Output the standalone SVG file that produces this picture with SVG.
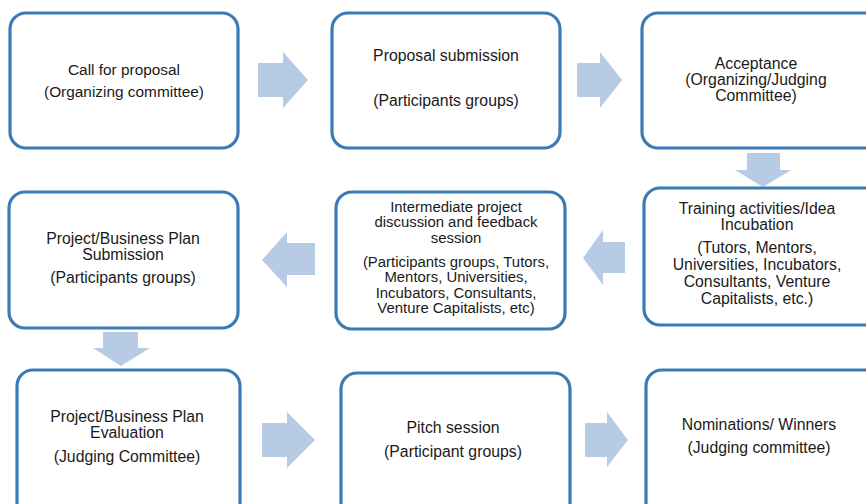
<svg xmlns="http://www.w3.org/2000/svg" width="866" height="504" viewBox="0 0 866 504">
<style>
.box{fill:#fff;stroke:#3a7bb5;stroke-width:3.2}
.arr{fill:#b7cbe4}
text{font-family:"Liberation Sans",Arial,sans-serif;font-size:15.8px;fill:#1a1a1a;text-anchor:middle}
.sm{font-size:14.9px}
.md{font-size:15.4px}
</style>
<rect width="866" height="504" fill="#fff"/>
<g id="connectors">
<polygon class="arr" points="258,63 283,63 283,52 308,80 283,108 283,97 258,97"/>
<polygon class="arr" points="577,63 600,63 600,52 622,80 600,108 600,97 577,97"/>
<polygon class="arr" points="747,153 780,153 780,170 791,170 763,187 735,170 747,170"/>
<polygon class="arr" points="625,242 603,242 603,230 583,258 603,285 603,273 625,273"/>
<polygon class="arr" points="315,243 287,243 287,232 262,260 287,287 287,275 315,275"/>
<polygon class="arr" points="103,332 138,332 138,348 150,348 121,366 93,348 103,348"/>
<polygon class="arr" points="262,423 287,423 287,412 315,440 287,468 287,457 262,457"/>
<polygon class="arr" points="585,423 607,423 607,412 628,440 607,467 607,457 585,457"/>
</g>
<g id="call">
<rect class="box" x="10" y="13" width="228" height="135" rx="16"/>
<text class="md" x="124" y="75">Call  for proposal</text>
<text class="md" x="124" y="97">(Organizing committee)</text>
</g>
<g id="proposal">
<rect class="box" x="332" y="13" width="228" height="135" rx="16"/>
<text x="446" y="61">Proposal submission</text>
<text x="446" y="106">(Participants groups)</text>
</g>
<g id="acceptance">
<rect class="box" x="642" y="13" width="240" height="135" rx="16"/>
<text x="756" y="69">Acceptance</text>
<text x="756" y="85">(Organizing/Judging</text>
<text x="756" y="101">Committee)</text>
</g>
<g id="training">
<rect class="box" x="644" y="188" width="240" height="137" rx="16"/>
<text x="757" y="214">Training activities/Idea</text>
<text x="757" y="230">Incubation</text>
<text x="757" y="253">(Tutors, Mentors,</text>
<text x="757" y="270">Universities, Incubators,</text>
<text x="757" y="287">Consultants, Venture</text>
<text x="757" y="304">Capitalists, etc.)</text>
</g>
<g id="intermediate">
<rect class="box" x="336" y="192" width="229" height="137" rx="16"/>
<text class="sm" x="456" y="212">Intermediate  project</text>
<text class="sm" x="456" y="227">discussion and feedback</text>
<text class="sm" x="456" y="243">session</text>
<text class="sm" x="456" y="267">(Participants groups, Tutors,</text>
<text class="sm" x="456" y="282">Mentors, Universities,</text>
<text class="sm" x="456" y="298">Incubators, Consultants,</text>
<text class="sm" x="456" y="313">Venture Capitalists, etc)</text>
</g>
<g id="submission">
<rect class="box" x="9" y="192" width="229" height="136" rx="16"/>
<text x="123" y="244">Project/Business Plan</text>
<text x="123" y="260">Submission</text>
<text x="123" y="283">(Participants groups)</text>
</g>
<g id="evaluation">
<rect class="box" x="17" y="370" width="223" height="150" rx="16"/>
<text x="127" y="422">Project/Business Plan</text>
<text x="127" y="438">Evaluation</text>
<text x="127" y="462">(Judging Committee)</text>
</g>
<g id="pitch">
<rect class="box" x="341" y="373" width="229" height="150" rx="16"/>
<text x="453" y="433">Pitch  session</text>
<text x="453" y="457">(Participant groups)</text>
</g>
<g id="nominations">
<rect class="box" x="646" y="370" width="240" height="150" rx="16"/>
<text x="759" y="430">Nominations/ Winners</text>
<text x="759" y="453">(Judging committee)</text>
</g>
</svg>
